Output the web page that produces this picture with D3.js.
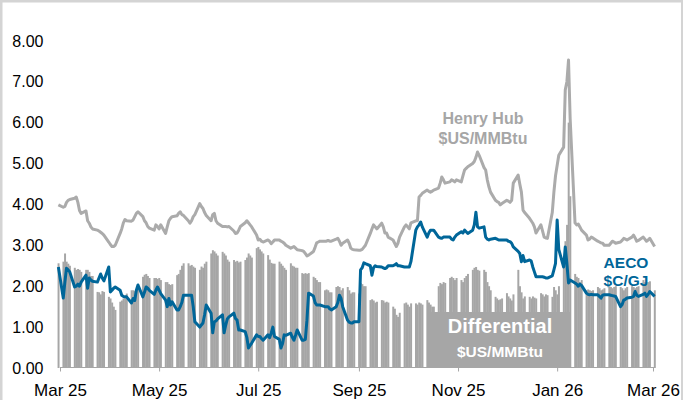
<!DOCTYPE html>
<html>
<head>
<meta charset="utf-8">
<script src="https://cdnjs.cloudflare.com/ajax/libs/d3/7.8.5/d3.min.js"></script>
<style>
  body { margin: 0; background: #fff; }
  svg { display: block; font-family: "Liberation Sans", Arial, sans-serif; }
</style>
</head>
<body>
<svg id="chart" width="683" height="400"></svg>
<script>
'use strict';

// trading days run from Fri 28 Feb 2025 to Mon 2 Mar 2026, one value per weekday
var firstDay = new Date(2025, 1, 28);
var lastDay = new Date(2026, 2, 2);

// Henry Hub, $US/MMBtu (rows are weeks, Mon..Fri)
var henryHub = [
  3.99,
  3.93, 3.95, 4.05, 4.10, 4.12,
  4.15, 4.18, 4.05, 3.85, 3.78,
  3.84, 3.60, 3.54, 3.45, 3.40,
  3.37, 3.35, 3.32, 3.29, 3.25,
  3.08, 3.02, 2.97, 2.97, 3.00,
  3.29, 3.40, 3.55, 3.63, 3.60,
  3.59, 3.62, 3.70, 3.78, 3.82,
  3.70, 3.60, 3.55, 3.46, 3.42,
  3.37, 3.50, 3.46, 3.40, 3.50,
  3.29, 3.45, 3.60, 3.66, 3.70,
  3.72, 3.78, 3.82, 3.75, 3.73,
  3.60, 3.54, 3.60, 3.70, 3.75,
  4.02, 3.95, 3.90, 3.80, 3.73,
  3.60, 3.75, 3.78, 3.60, 3.54,
  3.46, 3.46, 3.46, 3.45, 3.46,
  3.35, 3.29, 3.30, 3.37, 3.46,
  3.55, 3.60, 3.55, 3.50, 3.45,
  3.25, 3.13, 3.15, 3.10, 3.08,
  3.13, 3.10, 3.04, 3.08, 3.13,
  3.13, 3.10, 3.08, 3.05, 3.00,
  2.93, 2.95, 2.97, 2.93, 2.89,
  2.87, 2.85, 2.80, 2.74, 2.76,
  2.85, 2.95, 3.06, 3.08, 3.10,
  3.10, 3.10, 3.12, 3.10, 3.10,
  3.15, 3.17, 3.10, 3.00, 3.05,
  3.13, 3.05, 2.93, 2.90, 2.89,
  2.88, 2.88, 2.90, 2.95, 3.00,
  3.29, 3.40, 3.50, 3.45, 3.40,
  3.54, 3.45, 3.30, 3.30, 3.20,
  3.13, 3.05, 2.97, 3.05, 3.20,
  3.45, 3.50, 3.45, 3.40, 3.55,
  3.60, 3.60, 4.18, 4.22, 4.27,
  4.35, 4.32, 4.30, 4.32, 4.35,
  4.40, 4.52, 4.67, 4.60, 4.52,
  4.55, 4.60, 4.58, 4.55, 4.60,
  4.55, 4.70, 4.84, 4.88, 4.92,
  5.00, 5.05, 5.15, 5.28, 5.20,
  4.90, 4.84, 4.60, 4.43, 4.30,
  4.10, 4.07, 4.05, 3.99, 4.02,
  4.10, 4.08, 4.05, 4.10, 4.52,
  4.72, 4.50, 4.30, 3.86, 3.80,
  3.66, 3.60, 3.54, 3.45, 3.30,
  3.50, 3.35, 3.20, 3.18, 3.17,
  3.80, 4.30, 4.70, 4.95, 5.20,
  5.40, 6.80, 7.00, 7.53, 6.10,
  3.55, 3.50, 3.52, 3.45, 3.37,
  3.25, 3.13, 3.15, 3.20, 3.18,
  3.10, 3.08, 3.06, 3.05, 3.00,
  3.00, 3.05, 3.10, 3.08, 3.05,
  3.08, 3.12, 3.17, 3.15, 3.13,
  3.20, 3.25, 3.18, 3.10, 3.12,
  3.20, 3.15, 3.10, 3.13, 3.17,
  2.97
];

// AECO, $C/GJ
var aeco = [
  2.47,
  1.71, 2.10, 2.44, 2.40, 2.35,
  1.98, 2.00, 2.05, 2.00, 2.10,
  2.27, 1.95, 2.20, 2.15, 2.12,
  2.10, 2.20, 2.30, 2.20, 2.13,
  2.47, 1.86, 1.90, 1.95, 1.98,
  1.90, 1.78, 1.75, 1.74, 1.74,
  1.59, 1.70, 1.65, 1.90, 2.03,
  1.74, 1.85, 1.98, 1.95, 1.90,
  1.80, 1.90, 1.98, 1.90, 1.82,
  1.66, 1.50, 1.70, 1.54, 1.62,
  1.42, 1.42, 1.50, 1.60, 1.78,
  1.78, 1.78, 1.78, 1.50, 1.13,
  1.00, 1.05, 1.10, 1.30, 1.54,
  1.34, 0.86, 1.13, 1.15, 1.20,
  1.30, 0.86, 1.05, 1.20, 1.25,
  1.34, 1.21, 1.17, 0.93, 0.93,
  0.89, 0.75, 0.49, 0.55, 0.61,
  0.81, 0.77, 0.77, 0.72, 0.68,
  0.81, 0.74, 0.85, 1.00, 0.77,
  0.70, 0.49, 0.60, 0.81, 0.80,
  0.85, 0.75, 0.68, 0.80, 0.93,
  0.68, 0.68, 0.70, 1.17, 1.83,
  1.76, 1.60, 1.54, 1.54, 1.54,
  1.50, 1.50, 1.50, 1.45, 1.42,
  1.50, 1.60, 1.78, 1.70, 1.50,
  1.17, 1.12, 1.10, 1.10, 1.13,
  1.13, 2.40, 2.45, 2.57, 2.55,
  2.50, 2.27, 2.45, 2.50, 2.48,
  2.47, 2.45, 2.43, 2.45, 2.50,
  2.50, 2.52, 2.55, 2.50, 2.50,
  2.47, 2.47, 2.47, 2.47, 2.60,
  3.37, 3.45, 3.50, 3.57, 3.45,
  3.20, 3.30, 3.37, 3.37, 3.37,
  3.20, 3.18, 3.17, 3.20, 3.20,
  3.20, 3.15, 3.13, 3.20, 3.25,
  3.33, 3.30, 3.37, 3.33, 3.29,
  3.37, 3.50, 3.81, 3.45, 3.42,
  3.45, 3.20, 3.15, 3.13, 3.15,
  3.17, 3.15, 3.13, 3.13, 3.13,
  3.13, 3.10, 3.09, 3.05, 2.96,
  2.85, 2.80, 2.60, 2.75, 2.60,
  2.64, 2.62, 2.47, 2.35, 2.23,
  2.23, 2.23, 2.22, 2.20, 2.20,
  2.25, 2.40, 2.56, 3.62, 2.90,
  2.47, 2.96, 2.55, 2.08, 2.15,
  2.08, 2.05, 2.00, 2.05, 2.02,
  1.83, 1.80, 1.79, 1.80, 1.79,
  1.79, 1.75, 1.71, 1.78, 1.79,
  1.79, 1.78, 1.77, 1.76, 1.75,
  1.50, 1.55, 1.66, 1.68, 1.71,
  1.73, 1.75, 1.87, 1.78, 1.75,
  1.80, 1.83, 1.75, 1.80, 1.87,
  1.75
];

// Differential, $US/MMBtu
var differential = [
  2.56,
  2.60, 2.80, 2.60, 2.55, 2.50,
  2.45, 2.40, 2.42, 2.40, 2.35,
  2.40, 2.40, 2.35, 2.25, 2.25,
  1.86, 1.85, 1.80, 1.88, 1.86,
  1.74, 1.70, 1.60, 1.50, 1.42,
  1.62, 1.65, 1.70, 1.75, 1.82,
  1.90, 1.90, 1.88, 1.90, 1.95,
  2.23, 2.28, 2.30, 2.25, 2.20,
  2.20, 2.20, 2.18, 2.20, 2.15,
  2.10, 2.10, 2.05, 2.03, 2.05,
  2.27, 2.30, 2.40, 2.50, 2.56,
  2.56, 2.50, 2.52, 2.48, 2.45,
  2.40, 2.48, 2.45, 2.55, 2.60,
  2.80, 2.88, 2.85, 2.80, 2.75,
  2.84, 2.80, 2.75, 2.65, 2.60,
  2.64, 2.60, 2.62, 2.58, 2.60,
  2.64, 2.70, 2.80, 2.75, 2.70,
  2.93, 2.96, 2.90, 2.85, 2.80,
  2.76, 2.65, 2.57, 2.55, 2.55,
  2.60, 2.55, 2.50, 2.45, 2.40,
  2.56, 2.50, 2.48, 2.45, 2.45,
  2.32, 2.30, 2.32, 2.30, 2.32,
  2.23, 2.20, 2.15, 2.10, 2.10,
  1.90, 1.92, 1.90, 1.85, 1.85,
  1.98, 2.00, 1.98, 1.90, 1.95,
  1.98, 1.90, 1.82, 1.85, 1.85,
  1.82, 2.08, 2.05, 2.00, 2.00,
  1.66, 1.68, 1.65, 1.60, 1.62,
  1.66, 1.65, 1.60, 1.62, 1.60,
  1.50, 1.45, 1.30, 1.25, 1.35,
  1.58, 1.60, 1.55, 1.50, 1.58,
  1.58, 1.55, 1.60, 1.58, 1.55,
  1.66, 1.60, 1.55, 1.50, 1.50,
  2.00, 2.08, 2.05, 2.10, 2.08,
  2.20, 2.23, 2.20, 2.15, 2.20,
  2.15, 2.10, 2.20, 2.25, 2.30,
  2.40, 2.45, 2.47, 2.40, 2.38,
  2.40, 2.35, 2.10, 2.00, 1.90,
  1.74, 1.70, 1.66, 1.68, 1.70,
  1.83, 1.75, 1.70, 1.65, 1.80,
  2.40, 2.00, 1.85, 1.70, 1.75,
  1.74, 1.70, 1.75, 1.72, 1.70,
  1.83, 1.80, 1.75, 1.80, 1.78,
  1.74, 1.98, 1.90, 1.80, 2.00,
  2.60, 3.10, 3.50, 6.00, 4.20,
  2.30, 2.23, 2.20, 2.10, 2.15,
  1.90, 1.92, 1.90, 1.88, 1.90,
  1.98, 1.95, 1.90, 1.92, 1.95,
  2.00, 1.98, 1.95, 1.98, 2.00,
  1.98, 1.95, 1.90, 1.95, 1.98,
  2.00, 1.98, 1.95, 1.98, 2.00,
  2.15, 2.10, 2.05, 2.10, 2.12,
  1.90
];

var yTicks = [0, 1, 2, 3, 4, 5, 6, 7, 8];
var xTickMonths = [
  new Date(2025, 2, 1), new Date(2025, 4, 1), new Date(2025, 6, 1),
  new Date(2025, 8, 1), new Date(2025, 10, 1), new Date(2026, 0, 1),
  new Date(2026, 2, 1)
];

// weekday calendar for the series
var days = d3.timeDay.range(firstDay, d3.timeDay.offset(lastDay, 1))
  .filter(function (d) { return d.getDay() !== 0 && d.getDay() !== 6; });

var rows = days.map(function (d, i) {
  return { date: d, hh: henryHub[i], aeco: aeco[i], diff: differential[i] };
});

var svg = d3.select('#chart');

// frame
svg.append('rect').attr('x', 0).attr('y', 0).attr('width', 683).attr('height', 2.5).attr('fill', '#d4d4d4');
svg.append('rect').attr('x', 0).attr('y', 0).attr('width', 2.5).attr('height', 400).attr('fill', '#d4d4d4');
svg.append('rect').attr('x', 681).attr('y', 0).attr('width', 2).attr('height', 400).attr('fill', '#d4d4d4');

var x = d3.scaleTime()
  .domain([new Date(2025, 2, 1), new Date(2026, 2, 1)])
  .range([60, 653]);

var y = d3.scaleLinear()
  .domain([0, 8])
  .range([368, 40.8]);

var dayWidth = x(new Date(2025, 2, 2)) - x(new Date(2025, 2, 1));

// differential bars
svg.append('g')
  .selectAll('rect')
  .data(rows)
  .join('rect')
  .attr('x', function (d) { return x(d.date) - dayWidth / 2; })
  .attr('width', dayWidth + 0.35)
  .attr('y', function (d) { return y(d.diff); })
  .attr('height', function (d) { return y(0) - y(d.diff); })
  .attr('fill', '#a6a6a6');

// differential label box
var box = svg.append('g');
box.append('rect')
  .attr('x', 429).attr('y', 312)
  .attr('width', 142).attr('height', 55)
  .attr('fill', '#a6a6a6');
box.append('text')
  .attr('x', 500).attr('y', 333)
  .attr('text-anchor', 'middle')
  .attr('fill', '#fff')
  .style('font-size', '20px')
  .style('font-weight', 'bold')
  .text('Differential');
box.append('text')
  .attr('x', 500).attr('y', 357)
  .attr('text-anchor', 'middle')
  .attr('fill', '#fff')
  .style('font-size', '15.5px')
  .style('font-weight', 'bold')
  .text('$US/MMBtu');

// x axis
var xAxis = d3.axisBottom(x)
  .tickValues(xTickMonths)
  .tickFormat(d3.timeFormat('%b %y'))
  .tickSize(4)
  .tickPadding(12);

var gx = svg.append('g')
  .attr('transform', 'translate(0,367.5)')
  .call(xAxis);
gx.select('.domain').attr('stroke', '#a6a6a6').attr('d', 'M60,0H655');
gx.selectAll('.tick line').attr('stroke', '#a6a6a6');
gx.selectAll('.tick text')
  .attr('fill', '#000')
  .style('font-size', '17px')
  .style('font-family', '"Liberation Sans", Arial, sans-serif');

// y labels
svg.append('g')
  .selectAll('text')
  .data(yTicks)
  .join('text')
  .attr('x', 43.5)
  .attr('y', function (d) { return y(d); })
  .attr('dy', '0.36em')
  .attr('text-anchor', 'end')
  .attr('fill', '#000')
  .style('font-size', '16px')
  .text(function (d) { return d3.format('.2f')(d); });

// lines
var hhLine = d3.line()
  .x(function (d) { return x(d.date); })
  .y(function (d) { return y(d.hh); });

var aecoLine = d3.line()
  .x(function (d) { return x(d.date); })
  .y(function (d) { return y(d.aeco); });

svg.append('path')
  .datum(rows)
  .attr('d', hhLine)
  .attr('fill', 'none')
  .attr('stroke', '#ababab')
  .attr('stroke-width', 3)
  .attr('stroke-linejoin', 'round');

svg.append('path')
  .datum(rows)
  .attr('d', aecoLine)
  .attr('fill', 'none')
  .attr('stroke', '#006699')
  .attr('stroke-width', 3)
  .attr('stroke-linejoin', 'round');

// series labels
var hhLabel = svg.append('g')
  .attr('fill', '#a6a6a6')
  .style('font-size', '16px')
  .style('font-weight', 'bold')
  .attr('text-anchor', 'middle');
hhLabel.append('text').attr('x', 483).attr('y', 124).text('Henry Hub');
hhLabel.append('text').attr('x', 483).attr('y', 143.5).text('$US/MMBtu');

var aecoLabel = svg.append('g')
  .attr('fill', '#006699')
  .style('font-size', '15.5px')
  .style('font-weight', 'bold')
  .attr('text-anchor', 'middle');
aecoLabel.append('text').attr('x', 626).attr('y', 268).text('AECO');
aecoLabel.append('text').attr('x', 626).attr('y', 286).text('$C/GJ');
</script>
</body>
</html>
